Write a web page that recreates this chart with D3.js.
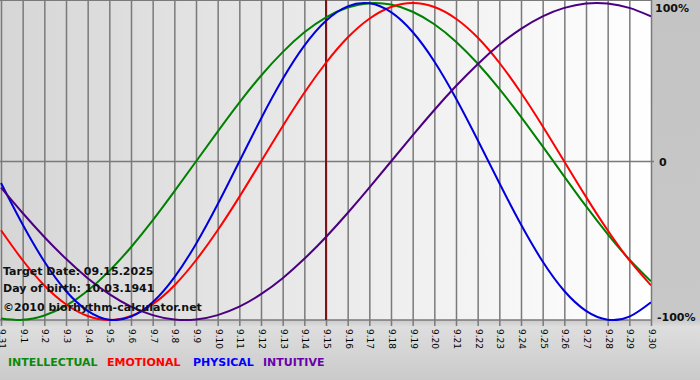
<!DOCTYPE html>
<html><head><meta charset="utf-8">
<script src="https://cdn.jsdelivr.net/npm/d3@7/dist/d3.min.js"></script>
<style>html,body{margin:0;padding:0;background:#c8c8c8;overflow:hidden}svg{display:block}</style>
</head><body><div id="chart"></div>
<script>
const dayLabels = ["9.31","9.1","9.2","9.3","9.4","9.5","9.6","9.7","9.8","9.9","9.10","9.11","9.12","9.13","9.14","9.15","9.16","9.17","9.18","9.19","9.20","9.21","9.22","9.23","9.24","9.25","9.26","9.27","9.28","9.29","9.30"];
const physical = [-0.136,-0.398,-0.631,-0.817,-0.942,-0.998,-0.979,-0.888,-0.731,-0.520,-0.270,0,0.270,0.520,0.731,0.888,0.979,0.998,0.942,0.817,0.631,0.398,0.136,-0.136,-0.398,-0.631,-0.817,-0.942,-0.998,-0.979,-0.888];
const emotional = [-0.434,-0.623,-0.782,-0.901,-0.975,-1,-0.975,-0.901,-0.782,-0.623,-0.434,-0.223,0,0.223,0.434,0.623,0.782,0.901,0.975,1,0.975,0.901,0.782,0.623,0.434,0.223,0,-0.223,-0.434,-0.623,-0.782];
const intellectual = [-0.990,-0.999,-0.972,-0.910,-0.815,-0.690,-0.541,-0.372,-0.189,0,0.189,0.372,0.541,0.690,0.815,0.910,0.972,0.999,0.990,0.945,0.866,0.756,0.618,0.458,0.282,0.095,-0.095,-0.282,-0.458,-0.618,-0.756];
const intuitive = [-0.165,-0.325,-0.476,-0.614,-0.736,-0.837,-0.916,-0.969,-0.997,-0.997,-0.969,-0.916,-0.837,-0.736,-0.614,-0.476,-0.325,-0.165,0,0.165,0.325,0.476,0.614,0.736,0.837,0.916,0.969,0.997,0.997,0.969,0.916];
const seriesNames = ["INTELLECTUAL","EMOTIONAL","PHYSICAL","INTUITIVE"];
const yTickValues = [1, 0, -1];
const yTickLabels = ["100%","0","-100%"];
const targetIndex = 15;
const infoLines = ["Target Date: 09.15.2025","Day of birth: 10.03.1941","©2010 biorhythm-calculator.net"];

const W = 700, H = 380;
const svg = d3.select("#chart").append("svg").attr("width", W).attr("height", H);
const defs = svg.append("defs");
const gBg = defs.append("linearGradient").attr("id","pageBg").attr("x1",0).attr("y1",0).attr("x2",0).attr("y2",1);
gBg.append("stop").attr("offset","0%").attr("stop-color","#c4c4c4");
gBg.append("stop").attr("offset","84%").attr("stop-color","#c8c8c8");
gBg.append("stop").attr("offset","86%").attr("stop-color","#dedede");
gBg.append("stop").attr("offset","100%").attr("stop-color","#cacaca");
const gPlot = defs.append("linearGradient").attr("id","plotBg").attr("x1",0).attr("y1",0).attr("x2",1).attr("y2",0);
gPlot.append("stop").attr("offset","0%").attr("stop-color","#d6d6d6");
gPlot.append("stop").attr("offset","100%").attr("stop-color","#ffffff");

svg.append("rect").attr("width",W).attr("height",H).attr("fill","url(#pageBg)");

const x = d3.scaleLinear().domain([0, dayLabels.length - 1]).range([1, 651]);
const y = d3.scaleLinear().domain([-1, 1]).range([320, 3]);

svg.append("rect").attr("x",0).attr("y",0).attr("width",x(30)).attr("height",y(-1))
  .attr("fill","url(#plotBg)");

// vertical grid / ticks
const xAxis = d3.axisBottom(x).tickValues(d3.range(dayLabels.length))
  .tickFormat(i => dayLabels[i]).tickSize(326).tickPadding(0);
const gx = svg.append("g").call(xAxis);
gx.select(".domain").remove();
gx.selectAll(".tick line").attr("stroke","#7a7a7a").attr("stroke-width",1.5);
gx.selectAll(".tick text")
  .attr("x", 0).attr("y", 0).attr("dy", null)
  .attr("text-anchor","start")
  .attr("dominant-baseline","middle")
  .attr("transform","translate(0,329) rotate(90)")
  .attr("fill","#000").style("font","9px 'DejaVu Sans', Verdana, sans-serif");

// top border and horizontal lines
svg.append("line").attr("x1",0).attr("x2",x(30)).attr("y1",0.5).attr("y2",0.5).attr("stroke","#7a7a7a");
svg.append("line").attr("x1",0).attr("x2",x(30)+3).attr("y1",y(0)).attr("y2",y(0)).attr("stroke","#7a7a7a").attr("stroke-width",1.5);
svg.append("line").attr("x1",0).attr("x2",x(30)).attr("y1",y(-1)).attr("y2",y(-1)).attr("stroke","#7a7a7a").attr("stroke-width",1.5);

// right axis labels
const yAxis = d3.axisRight(y).tickValues(yTickValues).tickFormat((d,i)=>yTickLabels[i]).tickSize(0).tickPadding(0);
const gy = svg.append("g").attr("transform",`translate(${x(30)},0)`).call(yAxis);
gy.select(".domain").remove();
gy.selectAll(".tick text").attr("fill","#111")
  .attr("x",(d)=> d===0 ? 8 : (d===1 ? 4 : 6))
  .attr("dy",(d)=> d===1 ? "0.75em" : (d===-1 ? "0.05em" : "0.4em"))
  .style("font","bold 11px 'DejaVu Sans', Verdana, sans-serif");

// target line
svg.append("line").attr("x1",x(targetIndex)).attr("x2",x(targetIndex)).attr("y1",0).attr("y2",y(-1))
  .attr("stroke","#7a1515").attr("stroke-width",2);

const series = [
  {name:"INTELLECTUAL", values:intellectual, color:"#008000"},
  {name:"EMOTIONAL", values:emotional, color:"#ff0000"},
  {name:"PHYSICAL", values:physical, color:"#0000dd"},
  {name:"INTUITIVE", values:intuitive, color:"#4b0082"}
];
const line = d3.line().x((d,i)=>x(i)).y(d=>y(d)).curve(d3.curveNatural);
defs.append("clipPath").attr("id","pc").append("rect").attr("x",0).attr("y",0).attr("width",x(30)).attr("height",y(-1)+1);
const gl = svg.append("g").attr("clip-path","url(#pc)");
series.forEach(s => {
  gl.append("path").attr("d", line(s.values)).attr("fill","none")
    .attr("stroke", s.color).attr("stroke-width", 2).attr("stroke-linejoin","round");
});

// info text
const infoY = [275, 292, 311];
infoLines.forEach((t,i)=>{
  svg.append("text").attr("x",3).attr("y",infoY[i]).text(t)
    .attr("fill","#111").style("font","bold 11px 'DejaVu Sans', Verdana, sans-serif");
});

// legend
const legendColors = ["#0a8a0a","#ff0000","#0000ff","#6a00aa"];
const legendX = [8, 107, 193, 263];
seriesNames.forEach((n,i)=>{
  svg.append("text").attr("x",legendX[i]).attr("y",366).text(n)
    .attr("fill",legendColors[i]).style("font","bold 11px 'DejaVu Sans', Verdana, sans-serif");
});
</script></body></html>
